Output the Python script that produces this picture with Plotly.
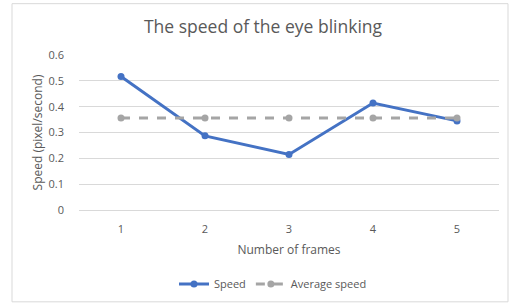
import plotly.graph_objects as go

frames = [1, 2, 3, 4, 5]
speed = [0.517, 0.287, 0.215, 0.414, 0.345]
avg_speed = [0.356, 0.356, 0.356, 0.356, 0.356]
y_ticks = [0, 0.1, 0.2, 0.3, 0.4, 0.5, 0.6]
y_tick_labels = ["0", "0.1", "0.2", "0.3", "0.4", "0.5", "0.6"]

FONT = "Open Sans"
GREY = "#595959"

fig = go.Figure()
fig.add_trace(go.Scatter(
    x=frames, y=speed, name="Speed", mode="lines+markers",
    line=dict(color="#4472C4", width=3),
    marker=dict(color="#4472C4", size=7),
))
fig.add_trace(go.Scatter(
    x=frames, y=avg_speed, name="Average speed", mode="lines+markers",
    line=dict(color="#A5A5A5", width=3, dash="dash"),
    marker=dict(color="#A5A5A5", size=7),
))

fig.update_layout(
    width=509, height=308,
    margin=dict(l=79, r=10, t=55, b=96),
    paper_bgcolor="white", plot_bgcolor="white",
    font=dict(family=FONT, color=GREY, size=11),
    title=dict(text="The speed of the eye blinking", x=(263 - 0) / 509, xanchor="center",
               y=1 - 27 / 308, yanchor="middle",
               font=dict(size=17.5, color=GREY, family=FONT)),
    xaxis=dict(range=[0.5, 5.5], tickvals=frames, ticktext=[str(f) for f in frames],
               showgrid=False, zeroline=False, showline=False, ticks="",
               automargin=False, ticklabelstandoff=11,
               title=dict(text="Number of frames", font=dict(size=12, color=GREY), standoff=10),
               tickfont=dict(size=11, color=GREY)),
    yaxis=dict(range=[0, 0.6], tickvals=y_ticks, ticktext=y_tick_labels,
               showgrid=True, gridcolor="#D9D9D9", gridwidth=1,
               zeroline=True, zerolinecolor="#D9D9D9", zerolinewidth=1,
               showline=False, ticks="", automargin=False, ticklabelstandoff=14,
               title=dict(text="Speed (pixel/second)", font=dict(size=12, color=GREY), standoff=3),
               tickfont=dict(size=11, color=GREY)),
    legend=dict(orientation="h", x=(273 - 79) / 420, xanchor="center", y=-(287 - 212) / 157,
                yanchor="middle", font=dict(size=11, color=GREY), itemwidth=30),
    showlegend=True,
    shapes=[dict(type="rect", xref="paper", yref="paper",
                 x0=(12 - 79) / 420, x1=(508 - 79) / 420,
                 y0=-(305 - 212) / 157, y1=1 + (55 - 3) / 157,
                 line=dict(color="#D9D9D9", width=1), fillcolor="rgba(0,0,0,0)", layer="below")],
)

fig.write_html("out.html", config={"responsive": False, "displayModeBar": False},
               post_script="document.body.style.margin='0';document.body.style.overflow='hidden';")
